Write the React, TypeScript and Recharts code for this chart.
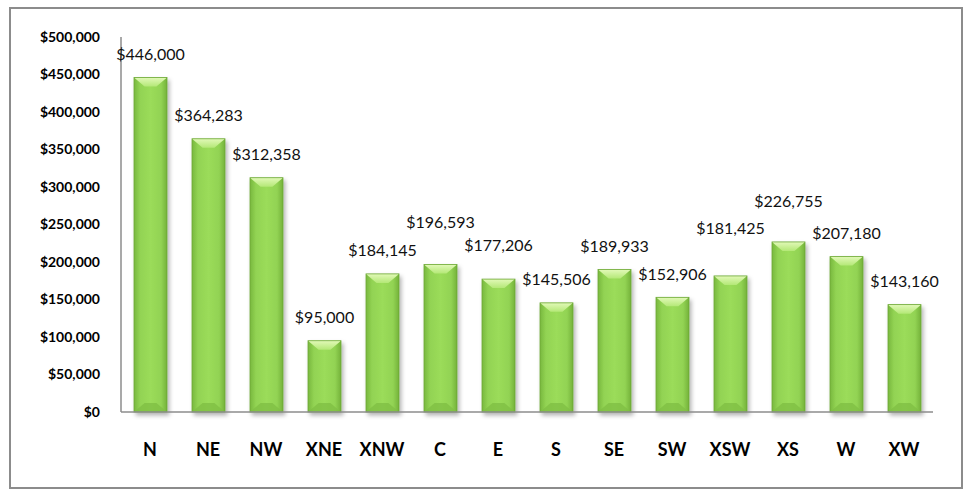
import React from "react";
import { BarChart, Bar, XAxis, YAxis, LabelList } from "recharts";

const categories = ["N", "NE", "NW", "XNE", "XNW", "C", "E", "S", "SE", "SW", "XSW", "XS", "W", "XW"];
const amounts = [446000, 364283, 312358, 95000, 184145, 196593, 177206, 145506, 189933, 152906, 181425, 226755, 207180, 143160];
const yTicks = [0, 50000, 100000, 150000, 200000, 250000, 300000, 350000, 400000, 450000, 500000];

// extra lift (px) for labels that were nudged up in the original
const labelRaise = [0, 0, 0, 0, 0, 19, 11, 0, 0, 0, 24, 17, 0, 0];

const data = categories.map((name, i) => ({ name, value: amounts[i] }));

const money = (v: number) => "$" + v.toLocaleString("en-US");

const FONT = "Lato, 'Open Sans', sans-serif";

const BevelBar = (props: any) => {
  const { x, y, width, height } = props;
  if (!height || height <= 0) return null;
  const b = Math.min(9, height / 2);
  const inset = width * 0.32;
  return (
    <g filter="url(#barShadow)">
      <rect x={x} y={y} width={width} height={height} fill="url(#barBody)" />
      <polygon
        points={`${x},${y} ${x + width},${y} ${x + width - inset},${y + b} ${x + inset},${y + b}`}
        fill="url(#barTop)"
      />
      <polygon
        points={`${x},${y + height} ${x + width},${y + height} ${x + width - inset},${y + height - b} ${x + inset},${y + height - b}`}
        fill="#7fbf43"
        opacity={0.8}
      />
      <rect x={x} y={y} width={width} height={height} fill="none" stroke="#6da836" strokeWidth={0.8} />
    </g>
  );
};

const ValueLabel = (props: any) => {
  const { x, y, width, value, index } = props;
  return (
    <text
      x={x + width / 2}
      y={y - 17.5 - (labelRaise[index] || 0)}
      textAnchor="middle"
      fontFamily={FONT}
      fontSize={16}
      fill="#111"
    >
      {money(value)}
    </text>
  );
};

export default function App() {
  return (
    <div style={{ position: "absolute", left: 0, top: 0, width: 971, height: 491, background: "#fff" }}>
      <div
        style={{
          position: "absolute",
          left: 9,
          top: 7,
          width: 954,
          height: 482,
          border: "2px solid #8c8c8c",
          boxSizing: "border-box",
        }}
      />
      <div style={{ position: "absolute", left: 0, top: 0 }}>
        <BarChart
          width={971}
          height={491}
          data={data}
          margin={{ top: 37, right: 38, bottom: 49, left: 0 }}
          barSize={33}
        >
          <defs>
            <linearGradient id="barBody" x1="0" y1="0" x2="1" y2="0">
              <stop offset="0%" stopColor="#78b83e" />
              <stop offset="18%" stopColor="#92d353" />
              <stop offset="50%" stopColor="#9bdc5a" />
              <stop offset="82%" stopColor="#92d353" />
              <stop offset="100%" stopColor="#74b23a" />
            </linearGradient>
            <linearGradient id="barTop" x1="0" y1="0" x2="0" y2="1">
              <stop offset="0%" stopColor="#e2f9b8" />
              <stop offset="100%" stopColor="#b4e877" />
            </linearGradient>
            <filter id="barShadow" x="-30%" y="-10%" width="170%" height="130%">
              <feDropShadow dx="2" dy="3" stdDeviation="2" floodColor="#000" floodOpacity="0.3" />
            </filter>
          </defs>
          <XAxis
            dataKey="name"
            height={30}
            axisLine={{ stroke: "#8c8c8c", strokeWidth: 1.5 }}
            tickLine={false}
            tickSize={0}
            tickMargin={31}
            interval={0}
            tick={{ fill: "#000", fontSize: 18, fontWeight: 700, fontFamily: FONT }}
          />
          <YAxis
            width={121}
            domain={[0, 500000]}
            ticks={yTicks}
            interval={0}
            tickFormatter={money}
            axisLine={{ stroke: "#8c8c8c", strokeWidth: 1.5 }}
            tickLine={false}
            tickSize={0}
            tickMargin={21}
            tick={{ fill: "#000", fontSize: 14, fontWeight: 700, fontFamily: FONT }}
          />
          <Bar dataKey="value" shape={<BevelBar />} isAnimationActive={false}>
            <LabelList dataKey="value" content={<ValueLabel />} />
          </Bar>
        </BarChart>
      </div>
    </div>
  );
}
